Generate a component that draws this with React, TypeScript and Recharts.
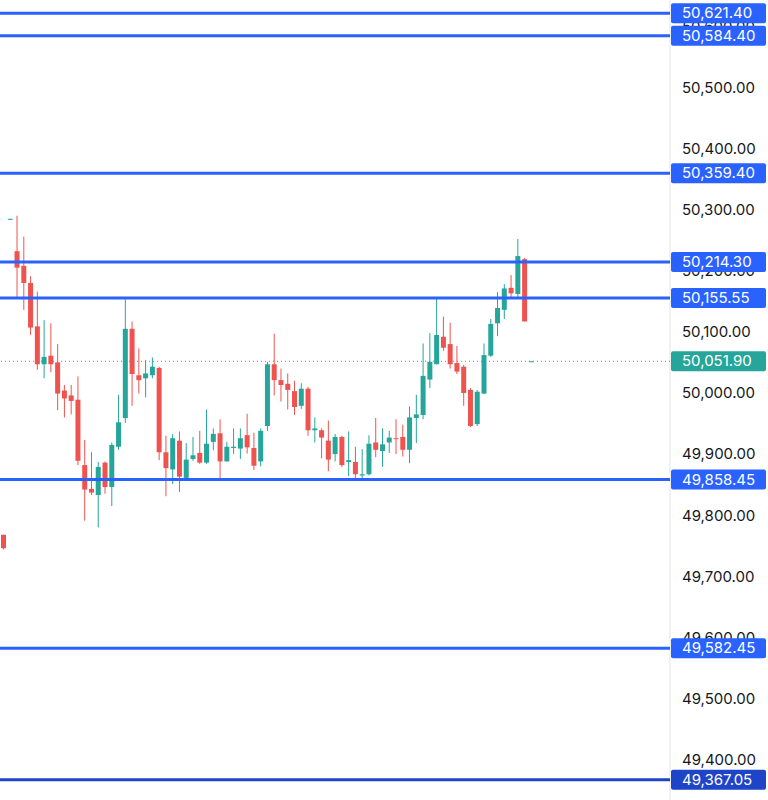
import React from "react";
import { ComposedChart, Bar, XAxis, YAxis, ReferenceLine } from "recharts";

// candle OHLC (one entry per bar)
const opens = [
  49768, 50284, 50232, 50208, 50180, 50109, 50047, 50061, 50050, 50004,
  49996, 49989, 49882, 49843, 49833, 49886, 49846, 49912, 49959, 50105,
  50029, 50024, 50029, 50041, 49903, 49875, 49922, 49861, 49892, 49902,
  49886, 49920, 49934, 49888, 49910, 49909, 49931, 49910, 49888, 49946,
  50047, 50021, 50015, 50003, 49979, 50007, 49939, 49939, 49922, 49900,
  49928, 49887, 49887, 49865, 49867, 49919, 49905, 49919, 49926, 49928,
  49907, 49959, 49964, 50022, 50047, 50092, 50080, 50049, 50043, 50005,
  49949, 49999, 50061, 50114, 50136, 50172, 50162, 50219, 50051.9,
];
const highs = [
  49768, 50285, 50290, 50256, 50191, 50166, 50119, 50114, 50080, 50013,
  50013, 50027, 49923, 49903, 49887, 49888, 49919, 49997, 50153, 50117,
  50073, 50054, 50058, 50043, 49930, 49933, 49937, 49918, 49928, 49938,
  49973, 49942, 49957, 49920, 49942, 49942, 49966, 49935, 49942, 50051,
  50097, 50040, 50032, 50020, 50016, 50010, 49960, 49942, 49955, 49933,
  49930, 49937, 49912, 49908, 49931, 49959, 49942, 49938, 49957, 49948,
  49978, 49997, 50081, 50098, 50154, 50125, 50115, 50077, 50046, 50008,
  50005, 50081, 50121, 50165, 50178, 50193, 50252, 50221, 50052.5,
];
const lows = [
  49744, 50283, 50157, 50136, 50095, 50038, 50024, 50034, 49972, 49960,
  49965, 49882, 49791, 49833, 49780, 49835, 49815, 49907, 49951, 49979,
  49999, 49993, 50024, 49890, 49831, 49851, 49838, 49858, 49889, 49884,
  49884, 49906, 49858, 49888, 49900, 49892, 49901, 49874, 49880, 49938,
  49996, 49986, 49973, 49964, 49974, 49930, 49919, 49893, 49872, 49888,
  49879, 49864, 49861, 49858, 49865, 49895, 49879, 49902, 49900, 49896,
  49885, 49918, 49957, 50008, 50047, 50069, 50040, 50031, 49979, 49944,
  49946, 49998, 50059, 50093, 50121, 50157, 50157, 50117, 50051.4,
];
const closes = [
  49746, 50285, 50205, 50180, 50107, 50047, 50059, 50047, 49999, 49991,
  49987, 49889, 49842, 49837, 49879, 49846, 49915, 49952, 50105, 50031,
  50021, 50032, 50043, 49903, 49877, 49926, 49863, 49891, 49898, 49886,
  49917, 49933, 49888, 49912, 49912, 49926, 49911, 49881, 49938, 50047,
  50021, 50013, 50005, 49977, 50007, 49939, 49942, 49927, 49891, 49928,
  49882, 49890, 49867, 49867, 49917, 49907, 49916, 49927, 49925, 49907,
  49960, 49965, 50028, 50051, 50095, 50074, 50047, 50035, 50000, 49946,
  50002, 50062, 50113, 50139, 50171, 50163, 50224, 50117, 50051.9,
];

// horizontal levels drawn on the chart
const levels = [50621.4, 50584.4, 50359.4, 50214.3, 50155.55, 49858.45, 49582.45];
const lastLevel = 49367.05;
const lastPrice = 50051.9;

const yTicks = [
  49400, 49500, 49600, 49700, 49800, 49900, 50000, 50100, 50200, 50300, 50400, 50500, 50600,
];

const EMPTY_SLOTS = 20; // blank space to the right of the last bar

const UP = "#26a69a";
const DOWN = "#ef5350";
const BLUE = "#2962ff";

const data = [
  ...opens.map((o, i) => ({
    i,
    open: o,
    high: highs[i],
    low: lows[i],
    close: closes[i],
    range: [lows[i], highs[i]],
  })),
  ...Array.from({ length: EMPTY_SLOTS }, (_, k) => ({ i: opens.length + k, range: null })),
];

const fmt = (v: number) =>
  v.toLocaleString("en-US", { minimumFractionDigits: 2, maximumFractionDigits: 2 });

const Candle = (props: any) => {
  const { x, y, width, height, payload } = props;
  if (!payload || payload.range == null) return null;
  const { open, close, high, low } = payload;
  const top = Math.min(y, y + height);
  const h = Math.abs(height);
  const pxPer = high - low > 0 ? h / (high - low) : 0;
  const yOf = (v: number) => top + (high - v) * pxPer;
  const color = close >= open ? UP : DOWN;
  const bTop = yOf(Math.max(open, close));
  const bH = Math.max(1, yOf(Math.min(open, close)) - bTop);
  const cx = x + width / 2;
  return (
    <g>
      <line x1={cx} x2={cx} y1={top} y2={top + h} stroke={color} strokeWidth={1} />
      <rect x={x} y={bTop} width={width} height={bH} fill={color} />
    </g>
  );
};

const priceTag = (value: number, bg: string) => (props: any) => {
  const vb = props.viewBox || {};
  const x = vb.x + vb.width;
  const y = vb.y;
  return (
    <g>
      <rect x={x + 1} y={y - 10} width={95} height={20} rx={2} fill={bg} />
      <text
        x={x + 12}
        y={y + 1}
        fill="#ffffff"
        fontSize={15}
        fontFamily="Inter, sans-serif"
        dominantBaseline="middle"
      >
        {fmt(value)}
      </text>
    </g>
  );
};

export default function App() {
  return (
    <div style={{ position: "absolute", left: 0, top: 0, width: 768, height: 800, background: "#fff" }}>
      <ComposedChart
        width={768}
        height={800}
        data={data}
        margin={{ top: 0, right: 0, bottom: 0, left: 0 }}
        barCategoryGap={0}
      >
        <XAxis dataKey="i" hide />
        <YAxis
          orientation="right"
          width={98}
          domain={[49334, 50643]}
          ticks={yTicks}
          tickFormatter={fmt}
          axisLine={{ stroke: "#e0e3eb" }}
          tickLine={false}
          tickSize={0}
          tickMargin={12}
          tick={{ fill: "#131722", fontSize: 15, fontFamily: "Inter, sans-serif", textAnchor: "start" }}
          allowDataOverflow
        />
        <Bar dataKey="range" barSize={5} shape={<Candle />} isAnimationActive={false} />
        <ReferenceLine
          y={lastPrice}
          stroke={UP}
          strokeWidth={1}
          strokeDasharray="1 3"
          zIndex={3000}
          label={{ content: priceTag(lastPrice, UP), zIndex: 3000 }}
        />
        {levels.map((v) => (
          <ReferenceLine
            key={v}
            y={v}
            stroke={BLUE}
            strokeWidth={3}
            zIndex={3000}
            label={{ content: priceTag(v, BLUE), zIndex: 3000 }}
          />
        ))}
        <ReferenceLine
          y={lastLevel}
          stroke="#1e44c8"
          strokeWidth={3}
          zIndex={3000}
          label={{ content: priceTag(lastLevel, "#1e44c8"), zIndex: 3000 }}
        />
      </ComposedChart>
    </div>
  );
}
